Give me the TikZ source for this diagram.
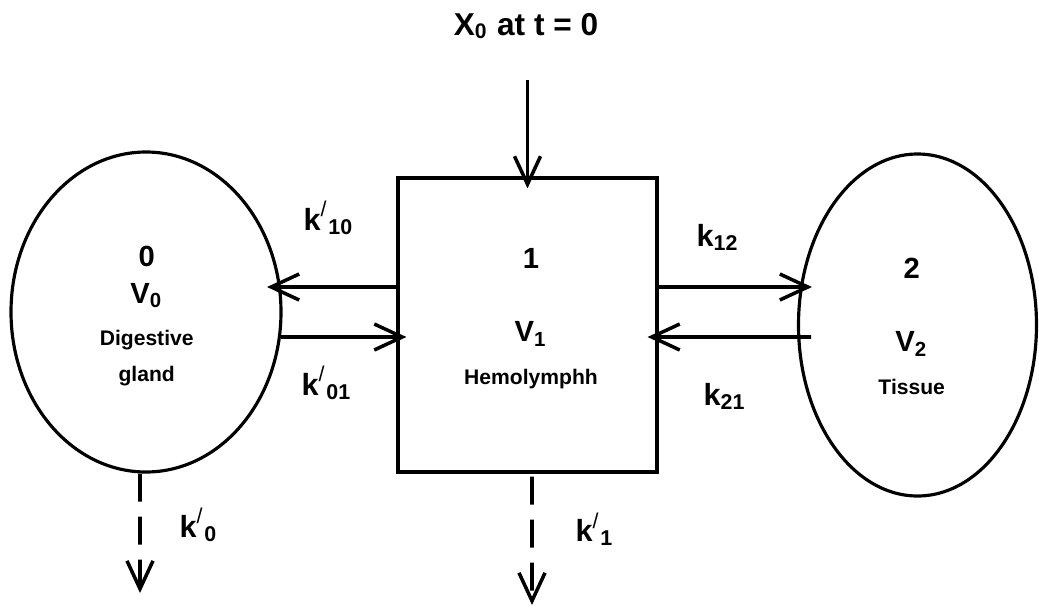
\documentclass[tikz,border=0pt]{standalone}
\usepackage{fontspec}
\setmainfont{Liberation Sans}
\usetikzlibrary{arrows.meta, positioning, shapes.geometric}

\newcommand{\rateprime}{\textsuperscript{\mdseries/}}

\begin{document}
\begin{tikzpicture}[
    every node/.style={font=\bfseries, inner sep=0pt},
    comp/.style={draw, ellipse, line width=0.9pt},
    box/.style={draw, line width=0.9pt, minimum width=2.59cm, minimum height=2.94cm},
    num/.style={font=\fontsize{8.3}{10}\selectfont\bfseries, anchor=base},
    tissue/.style={font=\fontsize{6}{7}\selectfont\bfseries, anchor=base},
    rate/.style={font=\fontsize{8.7}{10}\selectfont\bfseries, anchor=base west},
    flow/.style={->, line width=1pt},
    loss/.style={flow, dash pattern=on 2.8mm off 1.5mm},
    >={Straight Barb[length=2.8mm, width=2.6mm]}
]
\useasboundingbox (0,0) rectangle (10.39,6.11);

% compartments
\node[comp, minimum width=2.70cm, minimum height=3.20cm] (e0) at (1.46,2.99) {};
\node[box] (box) at (5.275,2.86) {};
\node[comp, minimum width=2.38cm, minimum height=3.42cm] (e2) at (9.175,2.86) {};

\node[num] (n0) at (1.467,3.443) {0};
\node[num] (v0) at (1.467,3.077) {V\textsubscript{0}};
\node[tissue] (t0a) at (1.467,2.66) {Digestive};
\node[tissue] (t0b) at (1.467,2.293) {gland};

\node[num] (n1) at (5.31,3.427) {1};
\node[num] (v1) at (5.31,2.693) {V\textsubscript{1}};
\node[tissue] (t1) at (5.31,2.27) {Hemolymphh};

\node[num] (n2) at (9.117,3.327) {2};
\node[num] (v2) at (9.117,2.593) {V\textsubscript{2}};
\node[tissue] (t2) at (9.117,2.17) {Tissue};

% dose
\node[font=\fontsize{9}{11}\selectfont\bfseries, anchor=base] (x0) at (5.26,5.76) {X\textsubscript{0} at t = 0};
\coordinate (drop) at (5.275,5.31);
\draw[flow] (drop) -- ([yshift=-1.2mm]box.north);

% exchange
\coordinate (in0) at (2.67,3.24);
\coordinate (out0) at (2.81,2.74);
\coordinate (in2) at (8.12,3.24);
\coordinate (out2) at (8.11,2.74);
\draw[flow] ([yshift=3.8mm]box.west) -- (in0);
\draw[flow] (out0) -- ([xshift=1mm, yshift=-1.2mm]box.west);
\draw[flow] ([yshift=3.8mm]box.east) -- (in2);
\draw[flow] (out2) -- ([xshift=-1.1mm, yshift=-1.2mm]box.east);

% elimination
\coordinate (sink0) at (1.40,0.18);
\coordinate (sink1) at (5.32,0.06);
\draw[loss] ([xshift=-0.6mm]e0.south) -- (sink0);
\draw[loss] ([xshift=0.45mm, yshift=-0.3mm]box.south) -- (sink1);

% rate constants
\node[rate] (k10) at (3.03,3.81) {k\rateprime\textsubscript{10}};
\node[rate] (k01) at (3.01,2.16) {k\rateprime\textsubscript{01}};
\node[rate] (k12) at (6.96,3.643) {k\textsubscript{12}};
\node[rate] (k21) at (7.03,2.06) {k\textsubscript{21}};
\node[rate] (k0) at (1.79,0.737) {k\rateprime\textsubscript{0}};
\node[rate] (k1) at (5.75,0.693) {k\rateprime\textsubscript{1}};
\end{tikzpicture}
\end{document}
